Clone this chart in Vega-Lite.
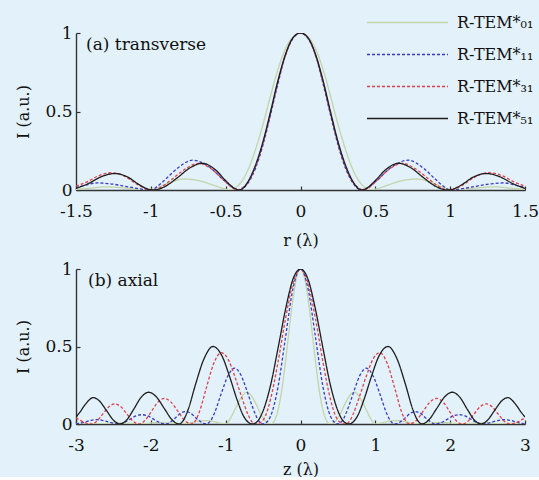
{
  "$schema": "https://vega.github.io/schema/vega-lite/v6.json",
  "background": "#e3f1fa",
  "padding": {"left": 15, "top": 8, "right": 0, "bottom": 0},
  "spacing": 12,
  "config": {
    "font": "DejaVu Serif",
    "view": {"stroke": null},
    "line": {"interpolate": "monotone"},
    "axis": {
      "grid": false,
      "domainColor": "#333333",
      "domainWidth": 1.4,
      "tickColor": "#333333",
      "tickWidth": 1.2,
      "tickSize": -4,
      "labelFlush": false,
      "labelOverlap": false,
      "labelFont": "DejaVu Serif",
      "labelFontSize": 17,
      "labelColor": "#111111",
      "titleFont": "DejaVu Serif",
      "titleFontSize": 16,
      "titleFontWeight": "normal",
      "titleColor": "#111111",
      "labelExpr": "replace(datum.label, '\u2212', '-')"
    },
    "axisX": {"labelPadding": 17, "titlePadding": 13},
    "axisY": {"labelPadding": 8, "titlePadding": 13}
  },
  "datasets": {
    "transverse": [
      {"mode": "R-TEM01", "pos": -1.5, "I": 0.004}, {"mode": "R-TEM01", "pos": -1.4, "I": 0.012}, {"mode": "R-TEM01", "pos": -1.3, "I": 0.02}, {"mode": "R-TEM01", "pos": -1.2, "I": 0.015}, {"mode": "R-TEM01", "pos": -1.08, "I": 0.004}, {"mode": "R-TEM01", "pos": -1.02, "I": 0}, {"mode": "R-TEM01", "pos": -0.96, "I": 0.015}, {"mode": "R-TEM01", "pos": -0.88, "I": 0.045}, {"mode": "R-TEM01", "pos": -0.78, "I": 0.07}, {"mode": "R-TEM01", "pos": -0.68, "I": 0.06}, {"mode": "R-TEM01", "pos": -0.58, "I": 0.03}, {"mode": "R-TEM01", "pos": -0.51, "I": 0.008}, {"mode": "R-TEM01", "pos": -0.47, "I": 0}, {"mode": "R-TEM01", "pos": -0.44, "I": 0.01}, {"mode": "R-TEM01", "pos": -0.4, "I": 0.045}, {"mode": "R-TEM01", "pos": -0.35, "I": 0.13}, {"mode": "R-TEM01", "pos": -0.3, "I": 0.26}, {"mode": "R-TEM01", "pos": -0.25, "I": 0.42}, {"mode": "R-TEM01", "pos": -0.2, "I": 0.6}, {"mode": "R-TEM01", "pos": -0.15, "I": 0.77}, {"mode": "R-TEM01", "pos": -0.1, "I": 0.9}, {"mode": "R-TEM01", "pos": -0.05, "I": 0.975},
      {"mode": "R-TEM01", "pos": 0, "I": 1},
      {"mode": "R-TEM01", "pos": 0.05, "I": 0.975}, {"mode": "R-TEM01", "pos": 0.1, "I": 0.9}, {"mode": "R-TEM01", "pos": 0.15, "I": 0.77}, {"mode": "R-TEM01", "pos": 0.2, "I": 0.6}, {"mode": "R-TEM01", "pos": 0.25, "I": 0.42}, {"mode": "R-TEM01", "pos": 0.3, "I": 0.26}, {"mode": "R-TEM01", "pos": 0.35, "I": 0.13}, {"mode": "R-TEM01", "pos": 0.4, "I": 0.045}, {"mode": "R-TEM01", "pos": 0.44, "I": 0.01}, {"mode": "R-TEM01", "pos": 0.47, "I": 0}, {"mode": "R-TEM01", "pos": 0.51, "I": 0.008}, {"mode": "R-TEM01", "pos": 0.58, "I": 0.03}, {"mode": "R-TEM01", "pos": 0.68, "I": 0.06}, {"mode": "R-TEM01", "pos": 0.78, "I": 0.07}, {"mode": "R-TEM01", "pos": 0.88, "I": 0.045}, {"mode": "R-TEM01", "pos": 0.96, "I": 0.015}, {"mode": "R-TEM01", "pos": 1.02, "I": 0}, {"mode": "R-TEM01", "pos": 1.08, "I": 0.004}, {"mode": "R-TEM01", "pos": 1.2, "I": 0.015}, {"mode": "R-TEM01", "pos": 1.3, "I": 0.02}, {"mode": "R-TEM01", "pos": 1.4, "I": 0.012}, {"mode": "R-TEM01", "pos": 1.5, "I": 0.004},

      {"mode": "R-TEM11", "pos": -1.5, "I": 0.015}, {"mode": "R-TEM11", "pos": -1.44, "I": 0.03}, {"mode": "R-TEM11", "pos": -1.36, "I": 0.045}, {"mode": "R-TEM11", "pos": -1.26, "I": 0.038}, {"mode": "R-TEM11", "pos": -1.15, "I": 0.02}, {"mode": "R-TEM11", "pos": -1.05, "I": 0.004}, {"mode": "R-TEM11", "pos": -1.0, "I": 0}, {"mode": "R-TEM11", "pos": -0.96, "I": 0.02}, {"mode": "R-TEM11", "pos": -0.9, "I": 0.07}, {"mode": "R-TEM11", "pos": -0.82, "I": 0.14}, {"mode": "R-TEM11", "pos": -0.72, "I": 0.19}, {"mode": "R-TEM11", "pos": -0.6, "I": 0.14}, {"mode": "R-TEM11", "pos": -0.51, "I": 0.06}, {"mode": "R-TEM11", "pos": -0.44, "I": 0.01}, {"mode": "R-TEM11", "pos": -0.41, "I": 0}, {"mode": "R-TEM11", "pos": -0.38, "I": 0.012}, {"mode": "R-TEM11", "pos": -0.35, "I": 0.045}, {"mode": "R-TEM11", "pos": -0.3, "I": 0.14}, {"mode": "R-TEM11", "pos": -0.25, "I": 0.29}, {"mode": "R-TEM11", "pos": -0.2, "I": 0.48}, {"mode": "R-TEM11", "pos": -0.15, "I": 0.68}, {"mode": "R-TEM11", "pos": -0.1, "I": 0.86}, {"mode": "R-TEM11", "pos": -0.05, "I": 0.965},
      {"mode": "R-TEM11", "pos": 0, "I": 1},
      {"mode": "R-TEM11", "pos": 0.05, "I": 0.965}, {"mode": "R-TEM11", "pos": 0.1, "I": 0.86}, {"mode": "R-TEM11", "pos": 0.15, "I": 0.68}, {"mode": "R-TEM11", "pos": 0.2, "I": 0.48}, {"mode": "R-TEM11", "pos": 0.25, "I": 0.29}, {"mode": "R-TEM11", "pos": 0.3, "I": 0.14}, {"mode": "R-TEM11", "pos": 0.35, "I": 0.045}, {"mode": "R-TEM11", "pos": 0.38, "I": 0.012}, {"mode": "R-TEM11", "pos": 0.41, "I": 0}, {"mode": "R-TEM11", "pos": 0.44, "I": 0.01}, {"mode": "R-TEM11", "pos": 0.51, "I": 0.06}, {"mode": "R-TEM11", "pos": 0.6, "I": 0.14}, {"mode": "R-TEM11", "pos": 0.72, "I": 0.19}, {"mode": "R-TEM11", "pos": 0.82, "I": 0.14}, {"mode": "R-TEM11", "pos": 0.9, "I": 0.07}, {"mode": "R-TEM11", "pos": 0.96, "I": 0.02}, {"mode": "R-TEM11", "pos": 1.0, "I": 0}, {"mode": "R-TEM11", "pos": 1.05, "I": 0.004}, {"mode": "R-TEM11", "pos": 1.15, "I": 0.02}, {"mode": "R-TEM11", "pos": 1.26, "I": 0.038}, {"mode": "R-TEM11", "pos": 1.36, "I": 0.045}, {"mode": "R-TEM11", "pos": 1.44, "I": 0.03}, {"mode": "R-TEM11", "pos": 1.5, "I": 0.015},

      {"mode": "R-TEM31", "pos": -1.5, "I": 0.025}, {"mode": "R-TEM31", "pos": -1.43, "I": 0.05}, {"mode": "R-TEM31", "pos": -1.35, "I": 0.09}, {"mode": "R-TEM31", "pos": -1.26, "I": 0.11}, {"mode": "R-TEM31", "pos": -1.17, "I": 0.085}, {"mode": "R-TEM31", "pos": -1.09, "I": 0.035}, {"mode": "R-TEM31", "pos": -1.03, "I": 0.006}, {"mode": "R-TEM31", "pos": -0.99, "I": 0}, {"mode": "R-TEM31", "pos": -0.96, "I": 0.005}, {"mode": "R-TEM31", "pos": -0.92, "I": 0.025}, {"mode": "R-TEM31", "pos": -0.85, "I": 0.075}, {"mode": "R-TEM31", "pos": -0.76, "I": 0.14}, {"mode": "R-TEM31", "pos": -0.68, "I": 0.17}, {"mode": "R-TEM31", "pos": -0.59, "I": 0.13}, {"mode": "R-TEM31", "pos": -0.51, "I": 0.06}, {"mode": "R-TEM31", "pos": -0.45, "I": 0.01}, {"mode": "R-TEM31", "pos": -0.42, "I": 0}, {"mode": "R-TEM31", "pos": -0.39, "I": 0.012}, {"mode": "R-TEM31", "pos": -0.35, "I": 0.05}, {"mode": "R-TEM31", "pos": -0.3, "I": 0.15}, {"mode": "R-TEM31", "pos": -0.25, "I": 0.3}, {"mode": "R-TEM31", "pos": -0.2, "I": 0.49}, {"mode": "R-TEM31", "pos": -0.15, "I": 0.69}, {"mode": "R-TEM31", "pos": -0.1, "I": 0.86}, {"mode": "R-TEM31", "pos": -0.05, "I": 0.97},
      {"mode": "R-TEM31", "pos": 0, "I": 1},
      {"mode": "R-TEM31", "pos": 0.05, "I": 0.97}, {"mode": "R-TEM31", "pos": 0.1, "I": 0.86}, {"mode": "R-TEM31", "pos": 0.15, "I": 0.69}, {"mode": "R-TEM31", "pos": 0.2, "I": 0.49}, {"mode": "R-TEM31", "pos": 0.25, "I": 0.3}, {"mode": "R-TEM31", "pos": 0.3, "I": 0.15}, {"mode": "R-TEM31", "pos": 0.35, "I": 0.05}, {"mode": "R-TEM31", "pos": 0.39, "I": 0.012}, {"mode": "R-TEM31", "pos": 0.42, "I": 0}, {"mode": "R-TEM31", "pos": 0.45, "I": 0.01}, {"mode": "R-TEM31", "pos": 0.51, "I": 0.06}, {"mode": "R-TEM31", "pos": 0.59, "I": 0.13}, {"mode": "R-TEM31", "pos": 0.68, "I": 0.17}, {"mode": "R-TEM31", "pos": 0.76, "I": 0.14}, {"mode": "R-TEM31", "pos": 0.85, "I": 0.075}, {"mode": "R-TEM31", "pos": 0.92, "I": 0.025}, {"mode": "R-TEM31", "pos": 0.96, "I": 0.005}, {"mode": "R-TEM31", "pos": 0.99, "I": 0}, {"mode": "R-TEM31", "pos": 1.03, "I": 0.006}, {"mode": "R-TEM31", "pos": 1.09, "I": 0.035}, {"mode": "R-TEM31", "pos": 1.17, "I": 0.085}, {"mode": "R-TEM31", "pos": 1.26, "I": 0.11}, {"mode": "R-TEM31", "pos": 1.35, "I": 0.09}, {"mode": "R-TEM31", "pos": 1.43, "I": 0.05}, {"mode": "R-TEM31", "pos": 1.5, "I": 0.025},

      {"mode": "R-TEM51", "pos": -1.5, "I": 0.01}, {"mode": "R-TEM51", "pos": -1.42, "I": 0.04}, {"mode": "R-TEM51", "pos": -1.33, "I": 0.085}, {"mode": "R-TEM51", "pos": -1.24, "I": 0.105}, {"mode": "R-TEM51", "pos": -1.15, "I": 0.08}, {"mode": "R-TEM51", "pos": -1.08, "I": 0.035}, {"mode": "R-TEM51", "pos": -1.02, "I": 0.006}, {"mode": "R-TEM51", "pos": -0.98, "I": 0}, {"mode": "R-TEM51", "pos": -0.95, "I": 0.005}, {"mode": "R-TEM51", "pos": -0.9, "I": 0.025}, {"mode": "R-TEM51", "pos": -0.82, "I": 0.08}, {"mode": "R-TEM51", "pos": -0.74, "I": 0.14}, {"mode": "R-TEM51", "pos": -0.655, "I": 0.17}, {"mode": "R-TEM51", "pos": -0.57, "I": 0.13}, {"mode": "R-TEM51", "pos": -0.5, "I": 0.06}, {"mode": "R-TEM51", "pos": -0.44, "I": 0.01}, {"mode": "R-TEM51", "pos": -0.41, "I": 0}, {"mode": "R-TEM51", "pos": -0.38, "I": 0.015}, {"mode": "R-TEM51", "pos": -0.35, "I": 0.055}, {"mode": "R-TEM51", "pos": -0.3, "I": 0.16}, {"mode": "R-TEM51", "pos": -0.25, "I": 0.31}, {"mode": "R-TEM51", "pos": -0.2, "I": 0.5}, {"mode": "R-TEM51", "pos": -0.15, "I": 0.7}, {"mode": "R-TEM51", "pos": -0.1, "I": 0.865}, {"mode": "R-TEM51", "pos": -0.05, "I": 0.97},
      {"mode": "R-TEM51", "pos": 0, "I": 1},
      {"mode": "R-TEM51", "pos": 0.05, "I": 0.97}, {"mode": "R-TEM51", "pos": 0.1, "I": 0.865}, {"mode": "R-TEM51", "pos": 0.15, "I": 0.7}, {"mode": "R-TEM51", "pos": 0.2, "I": 0.5}, {"mode": "R-TEM51", "pos": 0.25, "I": 0.31}, {"mode": "R-TEM51", "pos": 0.3, "I": 0.16}, {"mode": "R-TEM51", "pos": 0.35, "I": 0.055}, {"mode": "R-TEM51", "pos": 0.38, "I": 0.015}, {"mode": "R-TEM51", "pos": 0.41, "I": 0}, {"mode": "R-TEM51", "pos": 0.44, "I": 0.01}, {"mode": "R-TEM51", "pos": 0.5, "I": 0.06}, {"mode": "R-TEM51", "pos": 0.57, "I": 0.13}, {"mode": "R-TEM51", "pos": 0.655, "I": 0.17}, {"mode": "R-TEM51", "pos": 0.74, "I": 0.14}, {"mode": "R-TEM51", "pos": 0.82, "I": 0.08}, {"mode": "R-TEM51", "pos": 0.9, "I": 0.025}, {"mode": "R-TEM51", "pos": 0.95, "I": 0.005}, {"mode": "R-TEM51", "pos": 0.98, "I": 0}, {"mode": "R-TEM51", "pos": 1.02, "I": 0.006}, {"mode": "R-TEM51", "pos": 1.08, "I": 0.035}, {"mode": "R-TEM51", "pos": 1.15, "I": 0.08}, {"mode": "R-TEM51", "pos": 1.24, "I": 0.105}, {"mode": "R-TEM51", "pos": 1.33, "I": 0.085}, {"mode": "R-TEM51", "pos": 1.42, "I": 0.04}, {"mode": "R-TEM51", "pos": 1.5, "I": 0.01}
    ],
    "axial": [
      {"mode": "R-TEM01", "pos": -3.0, "I": 0.003}, {"mode": "R-TEM01", "pos": -2.85, "I": 0.004}, {"mode": "R-TEM01", "pos": -2.7, "I": 0}, {"mode": "R-TEM01", "pos": -2.6, "I": 0.003}, {"mode": "R-TEM01", "pos": -2.45, "I": 0.008}, {"mode": "R-TEM01", "pos": -2.3, "I": 0.005}, {"mode": "R-TEM01", "pos": -2.15, "I": 0}, {"mode": "R-TEM01", "pos": -2.05, "I": 0.004}, {"mode": "R-TEM01", "pos": -1.9, "I": 0.01}, {"mode": "R-TEM01", "pos": -1.75, "I": 0.006}, {"mode": "R-TEM01", "pos": -1.6, "I": 0}, {"mode": "R-TEM01", "pos": -1.55, "I": 0.002}, {"mode": "R-TEM01", "pos": -1.42, "I": 0.012}, {"mode": "R-TEM01", "pos": -1.3, "I": 0.022}, {"mode": "R-TEM01", "pos": -1.18, "I": 0.018}, {"mode": "R-TEM01", "pos": -1.06, "I": 0.005}, {"mode": "R-TEM01", "pos": -1.0, "I": 0}, {"mode": "R-TEM01", "pos": -0.95, "I": 0.025}, {"mode": "R-TEM01", "pos": -0.88, "I": 0.09}, {"mode": "R-TEM01", "pos": -0.8, "I": 0.165}, {"mode": "R-TEM01", "pos": -0.72, "I": 0.205}, {"mode": "R-TEM01", "pos": -0.66, "I": 0.185}, {"mode": "R-TEM01", "pos": -0.6, "I": 0.135}, {"mode": "R-TEM01", "pos": -0.52, "I": 0.055}, {"mode": "R-TEM01", "pos": -0.45, "I": 0.01}, {"mode": "R-TEM01", "pos": -0.4, "I": 0}, {"mode": "R-TEM01", "pos": -0.35, "I": 0.02}, {"mode": "R-TEM01", "pos": -0.3, "I": 0.09}, {"mode": "R-TEM01", "pos": -0.25, "I": 0.22}, {"mode": "R-TEM01", "pos": -0.2, "I": 0.405}, {"mode": "R-TEM01", "pos": -0.15, "I": 0.615}, {"mode": "R-TEM01", "pos": -0.1, "I": 0.81}, {"mode": "R-TEM01", "pos": -0.05, "I": 0.95},
      {"mode": "R-TEM01", "pos": 0, "I": 1},
      {"mode": "R-TEM01", "pos": 0.05, "I": 0.95}, {"mode": "R-TEM01", "pos": 0.1, "I": 0.81}, {"mode": "R-TEM01", "pos": 0.15, "I": 0.615}, {"mode": "R-TEM01", "pos": 0.2, "I": 0.405}, {"mode": "R-TEM01", "pos": 0.25, "I": 0.22}, {"mode": "R-TEM01", "pos": 0.3, "I": 0.09}, {"mode": "R-TEM01", "pos": 0.35, "I": 0.02}, {"mode": "R-TEM01", "pos": 0.4, "I": 0}, {"mode": "R-TEM01", "pos": 0.45, "I": 0.01}, {"mode": "R-TEM01", "pos": 0.52, "I": 0.055}, {"mode": "R-TEM01", "pos": 0.6, "I": 0.135}, {"mode": "R-TEM01", "pos": 0.66, "I": 0.185}, {"mode": "R-TEM01", "pos": 0.72, "I": 0.205}, {"mode": "R-TEM01", "pos": 0.8, "I": 0.165}, {"mode": "R-TEM01", "pos": 0.88, "I": 0.09}, {"mode": "R-TEM01", "pos": 0.95, "I": 0.025}, {"mode": "R-TEM01", "pos": 1.0, "I": 0}, {"mode": "R-TEM01", "pos": 1.06, "I": 0.005}, {"mode": "R-TEM01", "pos": 1.18, "I": 0.018}, {"mode": "R-TEM01", "pos": 1.3, "I": 0.022}, {"mode": "R-TEM01", "pos": 1.42, "I": 0.012}, {"mode": "R-TEM01", "pos": 1.55, "I": 0.002}, {"mode": "R-TEM01", "pos": 1.6, "I": 0}, {"mode": "R-TEM01", "pos": 1.75, "I": 0.006}, {"mode": "R-TEM01", "pos": 1.9, "I": 0.01}, {"mode": "R-TEM01", "pos": 2.05, "I": 0.004}, {"mode": "R-TEM01", "pos": 2.15, "I": 0}, {"mode": "R-TEM01", "pos": 2.3, "I": 0.005}, {"mode": "R-TEM01", "pos": 2.45, "I": 0.008}, {"mode": "R-TEM01", "pos": 2.6, "I": 0.003}, {"mode": "R-TEM01", "pos": 2.7, "I": 0}, {"mode": "R-TEM01", "pos": 2.85, "I": 0.004}, {"mode": "R-TEM01", "pos": 3.0, "I": 0.003},

      {"mode": "R-TEM11", "pos": -3.0, "I": 0.001}, {"mode": "R-TEM11", "pos": -2.95, "I": 0.004}, {"mode": "R-TEM11", "pos": -2.88, "I": 0.013}, {"mode": "R-TEM11", "pos": -2.8, "I": 0.024}, {"mode": "R-TEM11", "pos": -2.72, "I": 0.028}, {"mode": "R-TEM11", "pos": -2.65, "I": 0.024}, {"mode": "R-TEM11", "pos": -2.58, "I": 0.015}, {"mode": "R-TEM11", "pos": -2.5, "I": 0.005}, {"mode": "R-TEM11", "pos": -2.42, "I": 0}, {"mode": "R-TEM11", "pos": -2.36, "I": 0.009}, {"mode": "R-TEM11", "pos": -2.28, "I": 0.03}, {"mode": "R-TEM11", "pos": -2.2, "I": 0.052}, {"mode": "R-TEM11", "pos": -2.12, "I": 0.06}, {"mode": "R-TEM11", "pos": -2.04, "I": 0.052}, {"mode": "R-TEM11", "pos": -1.96, "I": 0.03}, {"mode": "R-TEM11", "pos": -1.88, "I": 0.009}, {"mode": "R-TEM11", "pos": -1.8, "I": 0}, {"mode": "R-TEM11", "pos": -1.74, "I": 0.013}, {"mode": "R-TEM11", "pos": -1.67, "I": 0.04}, {"mode": "R-TEM11", "pos": -1.6, "I": 0.07}, {"mode": "R-TEM11", "pos": -1.53, "I": 0.08}, {"mode": "R-TEM11", "pos": -1.47, "I": 0.07}, {"mode": "R-TEM11", "pos": -1.4, "I": 0.04}, {"mode": "R-TEM11", "pos": -1.33, "I": 0.013}, {"mode": "R-TEM11", "pos": -1.29, "I": 0.004}, {"mode": "R-TEM11", "pos": -1.26, "I": 0}, {"mode": "R-TEM11", "pos": -1.21, "I": 0.015}, {"mode": "R-TEM11", "pos": -1.15, "I": 0.07}, {"mode": "R-TEM11", "pos": -1.06, "I": 0.195}, {"mode": "R-TEM11", "pos": -0.97, "I": 0.31}, {"mode": "R-TEM11", "pos": -0.88, "I": 0.36}, {"mode": "R-TEM11", "pos": -0.8, "I": 0.32}, {"mode": "R-TEM11", "pos": -0.72, "I": 0.22}, {"mode": "R-TEM11", "pos": -0.64, "I": 0.108}, {"mode": "R-TEM11", "pos": -0.56, "I": 0.022}, {"mode": "R-TEM11", "pos": -0.5, "I": 0}, {"mode": "R-TEM11", "pos": -0.46, "I": 0.008}, {"mode": "R-TEM11", "pos": -0.4, "I": 0.05}, {"mode": "R-TEM11", "pos": -0.3, "I": 0.24}, {"mode": "R-TEM11", "pos": -0.2, "I": 0.56}, {"mode": "R-TEM11", "pos": -0.1, "I": 0.875},
      {"mode": "R-TEM11", "pos": 0, "I": 1},
      {"mode": "R-TEM11", "pos": 0.1, "I": 0.875}, {"mode": "R-TEM11", "pos": 0.2, "I": 0.56}, {"mode": "R-TEM11", "pos": 0.3, "I": 0.24}, {"mode": "R-TEM11", "pos": 0.4, "I": 0.05}, {"mode": "R-TEM11", "pos": 0.46, "I": 0.008}, {"mode": "R-TEM11", "pos": 0.5, "I": 0}, {"mode": "R-TEM11", "pos": 0.56, "I": 0.022}, {"mode": "R-TEM11", "pos": 0.64, "I": 0.108}, {"mode": "R-TEM11", "pos": 0.72, "I": 0.22}, {"mode": "R-TEM11", "pos": 0.8, "I": 0.32}, {"mode": "R-TEM11", "pos": 0.88, "I": 0.36}, {"mode": "R-TEM11", "pos": 0.97, "I": 0.31}, {"mode": "R-TEM11", "pos": 1.06, "I": 0.195}, {"mode": "R-TEM11", "pos": 1.15, "I": 0.07}, {"mode": "R-TEM11", "pos": 1.21, "I": 0.015}, {"mode": "R-TEM11", "pos": 1.26, "I": 0}, {"mode": "R-TEM11", "pos": 1.29, "I": 0.004}, {"mode": "R-TEM11", "pos": 1.33, "I": 0.013}, {"mode": "R-TEM11", "pos": 1.4, "I": 0.04}, {"mode": "R-TEM11", "pos": 1.47, "I": 0.07}, {"mode": "R-TEM11", "pos": 1.53, "I": 0.08}, {"mode": "R-TEM11", "pos": 1.6, "I": 0.07}, {"mode": "R-TEM11", "pos": 1.67, "I": 0.04}, {"mode": "R-TEM11", "pos": 1.74, "I": 0.013}, {"mode": "R-TEM11", "pos": 1.8, "I": 0}, {"mode": "R-TEM11", "pos": 1.88, "I": 0.009}, {"mode": "R-TEM11", "pos": 1.96, "I": 0.03}, {"mode": "R-TEM11", "pos": 2.04, "I": 0.052}, {"mode": "R-TEM11", "pos": 2.12, "I": 0.06}, {"mode": "R-TEM11", "pos": 2.2, "I": 0.052}, {"mode": "R-TEM11", "pos": 2.28, "I": 0.03}, {"mode": "R-TEM11", "pos": 2.36, "I": 0.009}, {"mode": "R-TEM11", "pos": 2.42, "I": 0}, {"mode": "R-TEM11", "pos": 2.5, "I": 0.005}, {"mode": "R-TEM11", "pos": 2.58, "I": 0.015}, {"mode": "R-TEM11", "pos": 2.65, "I": 0.024}, {"mode": "R-TEM11", "pos": 2.72, "I": 0.028}, {"mode": "R-TEM11", "pos": 2.8, "I": 0.024}, {"mode": "R-TEM11", "pos": 2.88, "I": 0.013}, {"mode": "R-TEM11", "pos": 2.95, "I": 0.004}, {"mode": "R-TEM11", "pos": 3.0, "I": 0.001},

      {"mode": "R-TEM31", "pos": -3.0, "I": 0.04}, {"mode": "R-TEM31", "pos": -2.95, "I": 0.025}, {"mode": "R-TEM31", "pos": -2.88, "I": 0.008}, {"mode": "R-TEM31", "pos": -2.8, "I": 0}, {"mode": "R-TEM31", "pos": -2.72, "I": 0.019}, {"mode": "R-TEM31", "pos": -2.64, "I": 0.065}, {"mode": "R-TEM31", "pos": -2.56, "I": 0.111}, {"mode": "R-TEM31", "pos": -2.48, "I": 0.13}, {"mode": "R-TEM31", "pos": -2.4, "I": 0.111}, {"mode": "R-TEM31", "pos": -2.32, "I": 0.065}, {"mode": "R-TEM31", "pos": -2.24, "I": 0.019}, {"mode": "R-TEM31", "pos": -2.2, "I": 0.005}, {"mode": "R-TEM31", "pos": -2.16, "I": 0}, {"mode": "R-TEM31", "pos": -2.08, "I": 0.022}, {"mode": "R-TEM31", "pos": -2.0, "I": 0.075}, {"mode": "R-TEM31", "pos": -1.91, "I": 0.139}, {"mode": "R-TEM31", "pos": -1.82, "I": 0.165}, {"mode": "R-TEM31", "pos": -1.73, "I": 0.141}, {"mode": "R-TEM31", "pos": -1.64, "I": 0.083}, {"mode": "R-TEM31", "pos": -1.55, "I": 0.024}, {"mode": "R-TEM31", "pos": -1.5, "I": 0.006}, {"mode": "R-TEM31", "pos": -1.46, "I": 0}, {"mode": "R-TEM31", "pos": -1.42, "I": 0.011}, {"mode": "R-TEM31", "pos": -1.35, "I": 0.08}, {"mode": "R-TEM31", "pos": -1.26, "I": 0.23}, {"mode": "R-TEM31", "pos": -1.16, "I": 0.39}, {"mode": "R-TEM31", "pos": -1.06, "I": 0.46}, {"mode": "R-TEM31", "pos": -0.97, "I": 0.42}, {"mode": "R-TEM31", "pos": -0.88, "I": 0.31}, {"mode": "R-TEM31", "pos": -0.79, "I": 0.18}, {"mode": "R-TEM31", "pos": -0.7, "I": 0.06}, {"mode": "R-TEM31", "pos": -0.64, "I": 0.01}, {"mode": "R-TEM31", "pos": -0.59, "I": 0}, {"mode": "R-TEM31", "pos": -0.54, "I": 0.008}, {"mode": "R-TEM31", "pos": -0.48, "I": 0.04}, {"mode": "R-TEM31", "pos": -0.4, "I": 0.16}, {"mode": "R-TEM31", "pos": -0.3, "I": 0.4}, {"mode": "R-TEM31", "pos": -0.2, "I": 0.68}, {"mode": "R-TEM31", "pos": -0.1, "I": 0.91},
      {"mode": "R-TEM31", "pos": 0, "I": 1},
      {"mode": "R-TEM31", "pos": 0.1, "I": 0.91}, {"mode": "R-TEM31", "pos": 0.2, "I": 0.68}, {"mode": "R-TEM31", "pos": 0.3, "I": 0.4}, {"mode": "R-TEM31", "pos": 0.4, "I": 0.16}, {"mode": "R-TEM31", "pos": 0.48, "I": 0.04}, {"mode": "R-TEM31", "pos": 0.54, "I": 0.008}, {"mode": "R-TEM31", "pos": 0.59, "I": 0}, {"mode": "R-TEM31", "pos": 0.64, "I": 0.01}, {"mode": "R-TEM31", "pos": 0.7, "I": 0.06}, {"mode": "R-TEM31", "pos": 0.79, "I": 0.18}, {"mode": "R-TEM31", "pos": 0.88, "I": 0.31}, {"mode": "R-TEM31", "pos": 0.97, "I": 0.42}, {"mode": "R-TEM31", "pos": 1.06, "I": 0.46}, {"mode": "R-TEM31", "pos": 1.16, "I": 0.39}, {"mode": "R-TEM31", "pos": 1.26, "I": 0.23}, {"mode": "R-TEM31", "pos": 1.35, "I": 0.08}, {"mode": "R-TEM31", "pos": 1.42, "I": 0.011}, {"mode": "R-TEM31", "pos": 1.46, "I": 0}, {"mode": "R-TEM31", "pos": 1.5, "I": 0.006}, {"mode": "R-TEM31", "pos": 1.55, "I": 0.024}, {"mode": "R-TEM31", "pos": 1.64, "I": 0.083}, {"mode": "R-TEM31", "pos": 1.73, "I": 0.141}, {"mode": "R-TEM31", "pos": 1.82, "I": 0.165}, {"mode": "R-TEM31", "pos": 1.91, "I": 0.139}, {"mode": "R-TEM31", "pos": 2.0, "I": 0.075}, {"mode": "R-TEM31", "pos": 2.08, "I": 0.022}, {"mode": "R-TEM31", "pos": 2.16, "I": 0}, {"mode": "R-TEM31", "pos": 2.2, "I": 0.005}, {"mode": "R-TEM31", "pos": 2.24, "I": 0.019}, {"mode": "R-TEM31", "pos": 2.32, "I": 0.065}, {"mode": "R-TEM31", "pos": 2.4, "I": 0.111}, {"mode": "R-TEM31", "pos": 2.48, "I": 0.13}, {"mode": "R-TEM31", "pos": 2.56, "I": 0.111}, {"mode": "R-TEM31", "pos": 2.64, "I": 0.065}, {"mode": "R-TEM31", "pos": 2.72, "I": 0.019}, {"mode": "R-TEM31", "pos": 2.8, "I": 0}, {"mode": "R-TEM31", "pos": 2.88, "I": 0.008}, {"mode": "R-TEM31", "pos": 2.95, "I": 0.025}, {"mode": "R-TEM31", "pos": 3.0, "I": 0.04},

      {"mode": "R-TEM51", "pos": -3.0, "I": 0.045}, {"mode": "R-TEM51", "pos": -2.95, "I": 0.075}, {"mode": "R-TEM51", "pos": -2.87, "I": 0.13}, {"mode": "R-TEM51", "pos": -2.77, "I": 0.17}, {"mode": "R-TEM51", "pos": -2.69, "I": 0.15}, {"mode": "R-TEM51", "pos": -2.6, "I": 0.092}, {"mode": "R-TEM51", "pos": -2.5, "I": 0.025}, {"mode": "R-TEM51", "pos": -2.45, "I": 0.006}, {"mode": "R-TEM51", "pos": -2.41, "I": 0}, {"mode": "R-TEM51", "pos": -2.33, "I": 0.022}, {"mode": "R-TEM51", "pos": -2.23, "I": 0.094}, {"mode": "R-TEM51", "pos": -2.13, "I": 0.172}, {"mode": "R-TEM51", "pos": -2.03, "I": 0.205}, {"mode": "R-TEM51", "pos": -1.93, "I": 0.177}, {"mode": "R-TEM51", "pos": -1.82, "I": 0.1}, {"mode": "R-TEM51", "pos": -1.72, "I": 0.029}, {"mode": "R-TEM51", "pos": -1.67, "I": 0.008}, {"mode": "R-TEM51", "pos": -1.62, "I": 0}, {"mode": "R-TEM51", "pos": -1.57, "I": 0.02}, {"mode": "R-TEM51", "pos": -1.5, "I": 0.095}, {"mode": "R-TEM51", "pos": -1.4, "I": 0.26}, {"mode": "R-TEM51", "pos": -1.29, "I": 0.42}, {"mode": "R-TEM51", "pos": -1.17, "I": 0.5}, {"mode": "R-TEM51", "pos": -1.05, "I": 0.44}, {"mode": "R-TEM51", "pos": -0.95, "I": 0.31}, {"mode": "R-TEM51", "pos": -0.85, "I": 0.16}, {"mode": "R-TEM51", "pos": -0.76, "I": 0.05}, {"mode": "R-TEM51", "pos": -0.7, "I": 0.012}, {"mode": "R-TEM51", "pos": -0.65, "I": 0}, {"mode": "R-TEM51", "pos": -0.58, "I": 0.015}, {"mode": "R-TEM51", "pos": -0.5, "I": 0.085}, {"mode": "R-TEM51", "pos": -0.4, "I": 0.25}, {"mode": "R-TEM51", "pos": -0.3, "I": 0.49}, {"mode": "R-TEM51", "pos": -0.2, "I": 0.74}, {"mode": "R-TEM51", "pos": -0.1, "I": 0.935},
      {"mode": "R-TEM51", "pos": 0, "I": 1},
      {"mode": "R-TEM51", "pos": 0.1, "I": 0.935}, {"mode": "R-TEM51", "pos": 0.2, "I": 0.74}, {"mode": "R-TEM51", "pos": 0.3, "I": 0.49}, {"mode": "R-TEM51", "pos": 0.4, "I": 0.25}, {"mode": "R-TEM51", "pos": 0.5, "I": 0.085}, {"mode": "R-TEM51", "pos": 0.58, "I": 0.015}, {"mode": "R-TEM51", "pos": 0.65, "I": 0}, {"mode": "R-TEM51", "pos": 0.7, "I": 0.012}, {"mode": "R-TEM51", "pos": 0.76, "I": 0.05}, {"mode": "R-TEM51", "pos": 0.85, "I": 0.16}, {"mode": "R-TEM51", "pos": 0.95, "I": 0.31}, {"mode": "R-TEM51", "pos": 1.05, "I": 0.44}, {"mode": "R-TEM51", "pos": 1.17, "I": 0.5}, {"mode": "R-TEM51", "pos": 1.29, "I": 0.42}, {"mode": "R-TEM51", "pos": 1.4, "I": 0.26}, {"mode": "R-TEM51", "pos": 1.5, "I": 0.095}, {"mode": "R-TEM51", "pos": 1.57, "I": 0.02}, {"mode": "R-TEM51", "pos": 1.62, "I": 0}, {"mode": "R-TEM51", "pos": 1.67, "I": 0.008}, {"mode": "R-TEM51", "pos": 1.72, "I": 0.029}, {"mode": "R-TEM51", "pos": 1.82, "I": 0.1}, {"mode": "R-TEM51", "pos": 1.93, "I": 0.177}, {"mode": "R-TEM51", "pos": 2.03, "I": 0.205}, {"mode": "R-TEM51", "pos": 2.13, "I": 0.172}, {"mode": "R-TEM51", "pos": 2.23, "I": 0.094}, {"mode": "R-TEM51", "pos": 2.33, "I": 0.022}, {"mode": "R-TEM51", "pos": 2.41, "I": 0}, {"mode": "R-TEM51", "pos": 2.45, "I": 0.006}, {"mode": "R-TEM51", "pos": 2.5, "I": 0.025}, {"mode": "R-TEM51", "pos": 2.6, "I": 0.092}, {"mode": "R-TEM51", "pos": 2.69, "I": 0.15}, {"mode": "R-TEM51", "pos": 2.77, "I": 0.17}, {"mode": "R-TEM51", "pos": 2.87, "I": 0.13}, {"mode": "R-TEM51", "pos": 2.95, "I": 0.075}, {"mode": "R-TEM51", "pos": 3.0, "I": 0.045}
    ]
  },
  "vconcat": [
    {
      "width": 449,
      "height": 157,
      "layer": [
        {
          "data": {"name": "transverse"},
          "mark": {"type": "line", "clip": true},
          "encoding": {
            "x": {"field": "pos", "type": "quantitative", "title": "r (λ)", "scale": {"domain": [-1.5, 1.5], "nice": false, "zero": false}, "axis": {"values": [-1.5, -1, -0.5, 0, 0.5, 1, 1.5], "format": "~g"}},
            "y": {"field": "I", "type": "quantitative", "title": "I (a.u.)", "scale": {"domain": [0, 1], "nice": false}, "axis": {"values": [0, 0.5, 1], "format": "~g"}},
            "color": {
              "field": "mode", "type": "nominal",
              "scale": {"domain": ["R-TEM01", "R-TEM11", "R-TEM31", "R-TEM51"], "range": ["#c3d4a9", "#3a3ac6", "#e0404c", "#1e1e1e"]},
              "legend": {
                "title": null, "orient": "none", "legendX": 317, "legendY": -25, "padding": 0,
                "symbolType": "M-3,0H3", "symbolSize": 729,
                "labelFont": "DejaVu Serif", "labelFontSize": 16, "labelColor": "#111111", "labelOffset": 35,
                "rowPadding": 9,
                "labelExpr": "datum.label == 'R-TEM01' ? 'R-TEM*₀₁' : datum.label == 'R-TEM11' ? 'R-TEM*₁₁' : datum.label == 'R-TEM31' ? 'R-TEM*₃₁' : 'R-TEM*₅₁'"
              }
            },
            "strokeDash": {
              "field": "mode", "type": "nominal",
              "scale": {"domain": ["R-TEM01", "R-TEM11", "R-TEM31", "R-TEM51"], "range": [[1, 0], [3, 2], [3, 2], [1, 0]]}
            },
            "strokeWidth": {
              "field": "mode", "type": "nominal",
              "scale": {"domain": ["R-TEM01", "R-TEM11", "R-TEM31", "R-TEM51"], "range": [1.3, 1.3, 1.3, 1.7]}
            }
          }
        },
        {
          "data": {"values": [{"panel": "(a) transverse"}]},
          "mark": {"type": "text", "align": "left", "baseline": "alphabetic", "dx": 10, "dy": 17, "fontSize": 17, "font": "DejaVu Serif", "color": "#111111"},
          "encoding": {
            "x": {"datum": -1.5, "type": "quantitative"},
            "y": {"datum": 1, "type": "quantitative"},
            "text": {"field": "panel"}
          }
        }
      ]
    },
    {
      "width": 449,
      "height": 155,
      "layer": [
        {
          "data": {"name": "axial"},
          "mark": {"type": "line", "clip": true},
          "encoding": {
            "x": {"field": "pos", "type": "quantitative", "title": "z (λ)", "scale": {"domain": [-3, 3], "nice": false, "zero": false}, "axis": {"values": [-3, -2, -1, 0, 1, 2, 3], "format": "~g", "titlePadding": 8}},
            "y": {"field": "I", "type": "quantitative", "title": "I (a.u.)", "scale": {"domain": [0, 1], "nice": false}, "axis": {"values": [0, 0.5, 1], "format": "~g"}},
            "color": {
              "field": "mode", "type": "nominal",
              "scale": {"domain": ["R-TEM01", "R-TEM11", "R-TEM31", "R-TEM51"], "range": ["#c3d4a9", "#3a3ac6", "#e0404c", "#1e1e1e"]},
              "legend": null
            },
            "strokeDash": {
              "field": "mode", "type": "nominal",
              "scale": {"domain": ["R-TEM01", "R-TEM11", "R-TEM31", "R-TEM51"], "range": [[1, 0], [3, 2], [3, 2], [1, 0]]},
              "legend": null
            },
            "strokeWidth": {
              "field": "mode", "type": "nominal",
              "scale": {"domain": ["R-TEM01", "R-TEM11", "R-TEM31", "R-TEM51"], "range": [1.3, 1.3, 1.3, 1.7]},
              "legend": null
            }
          }
        },
        {
          "data": {"values": [{"panel": "(b) axial"}]},
          "mark": {"type": "text", "align": "left", "baseline": "alphabetic", "dx": 12, "dy": 17, "fontSize": 17, "font": "DejaVu Serif", "color": "#111111"},
          "encoding": {
            "x": {"datum": -3, "type": "quantitative"},
            "y": {"datum": 1, "type": "quantitative"},
            "text": {"field": "panel"}
          }
        }
      ]
    }
  ],
  "resolve": {"scale": {"color": "independent", "strokeDash": "independent", "strokeWidth": "independent"}, "legend": {"color": "independent", "strokeDash": "independent", "strokeWidth": "independent"}}
}
